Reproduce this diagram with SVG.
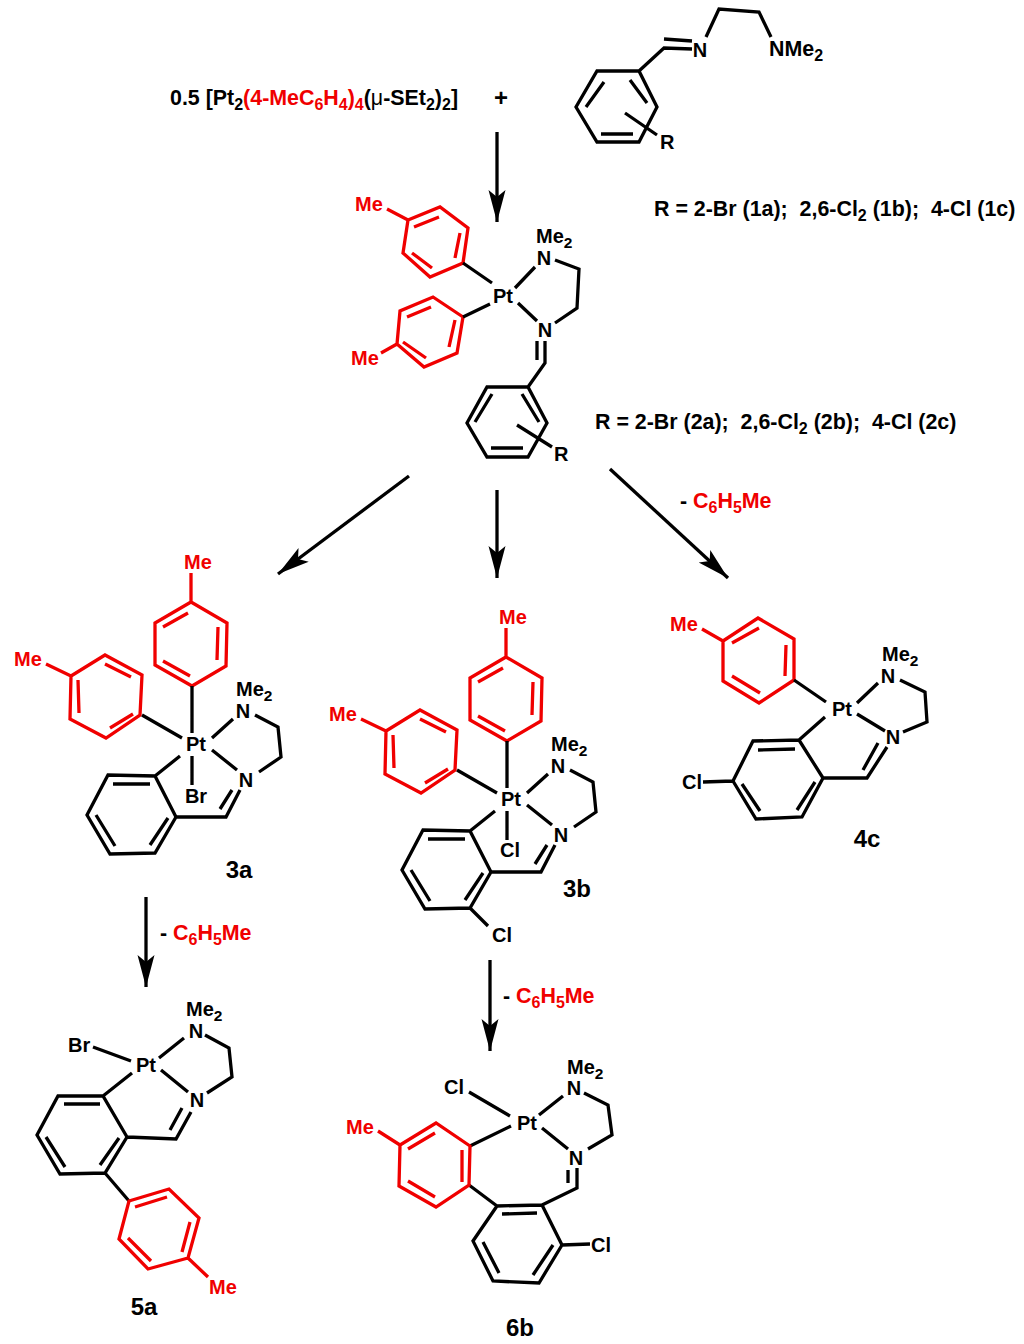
<svg xmlns="http://www.w3.org/2000/svg" width="1024" height="1344" viewBox="0 0 1024 1344">
<style>
text{font-family:"Liberation Sans",Arial,sans-serif;font-weight:700;font-size:20px;fill:#000;white-space:pre}
.m{text-anchor:middle}
.red,.red tspan{fill:#f00000}
.lbl{font-size:24px}
text.big{font-size:21.4px}
text.big .sub{font-size:16px}
.sub{font-size:15.5px}
.k,.r{fill:none;stroke-width:3.3px;stroke-linejoin:miter;stroke-linecap:butt}
.k{stroke:#000}.r{stroke:#f00000}
.arrow{fill:none;stroke:#000;stroke-width:3.3px;marker-end:url(#head)}
</style>
<defs>
<marker id="head" markerUnits="userSpaceOnUse" markerWidth="34" markerHeight="20" refX="32" refY="10" orient="auto">
<path d="M0 1.5 L32 10 L0 18.5 L7 10Z" fill="#000"/>
</marker>
</defs>
<rect width="1024" height="1344" fill="#fff"/>

<g id="connectors">
<line class="arrow" x1="497" y1="132" x2="497" y2="222"/>
<line class="arrow" x1="409" y1="476" x2="278" y2="574"/>
<line class="arrow" x1="497" y1="490" x2="497" y2="578"/>
<line class="arrow" x1="610" y1="469" x2="728" y2="578"/>
<line class="arrow" x1="146" y1="897" x2="146" y2="987"/>
<line class="arrow" x1="490" y1="960" x2="490" y2="1051"/>
</g>

<g id="reagent-pt">
<text class="big" x="170" y="105">0.5 [Pt<tspan class="sub" dy="5">2</tspan><tspan class="red" dy="-5">(4-MeC</tspan><tspan class="red sub" dy="5">6</tspan><tspan class="red" dy="-5">H</tspan><tspan class="red sub" dy="5">4</tspan><tspan class="red" dy="-5">)</tspan><tspan class="red sub" dy="5">4</tspan><tspan dy="-5">(</tspan><tspan style="font-weight:400">μ</tspan>-SEt<tspan class="sub" dy="5">2</tspan><tspan dy="-5">)</tspan><tspan class="sub" dy="5">2</tspan><tspan dy="-5">]</tspan></text>
<text class="m" x="501" y="106" style="font-size:24px">+</text>
</g>

<g id="ligand-1">
<path class="k" d="M597 71L639 71L657 107L639 142L597 142L576 107Z M630 80L647 103 M604 82L586 107 M601 134L633 134 M639 71L664 48L692 49 M664 39L692 41 M706 37L719 9L759 12L771 37 M625 113L657 135"/>
<text class="m" x="700" y="57">N</text>
<text x="769" y="56" class="big">NMe<tspan class="sub" dy="5">2</tspan></text>
<text x="660" y="149">R</text>
</g>
<text id="label-r1" class="big" x="654" y="216">R = 2-Br (1a);  2,6-Cl<tspan class="sub" dy="5">2</tspan><tspan dy="-5"> (1b);  4-Cl (1c)</tspan></text>

<g id="complex-2">
<path class="r" d="M408 220L440 207L468 228L463 263L430 277L403 253Z M414 227L439 217 M455 258L460 233 M412 253L432 268 M387 209L408 220"/>
<path class="r" d="M463 317L433 297L400 311L397 344L424 367L457 353Z M407 317L431 307 M455 320L449 347 M403 342L426 358 M381 353L397 344"/>
<path class="k" d="M463 263L492 283 M463 317L490 304 M515 288L535 267 M555 260L579 269L577 308L555 323 M518 303L537 321 M537 341L537 360 M545 341L545 363L528 387 M487 387L528 387L547 423L528 457L487 457L467 423Z M522 394L539 422 M492 394L475 422 M491 448L523 448 M517 425L552 447"/>
<text class="red" x="355" y="211">Me</text>
<text class="red" x="351" y="365">Me</text>
<text class="m" x="503" y="303">Pt</text>
<text class="m" x="544" y="265">N</text>
<text x="536" y="243">Me<tspan class="sub" dy="5">2</tspan></text>
<text class="m" x="545" y="337">N</text>
<text x="554" y="461">R</text>
</g>
<text id="label-r2" class="big" x="595" y="429">R = 2-Br (2a);  2,6-Cl<tspan class="sub" dy="5">2</tspan><tspan dy="-5"> (2b);  4-Cl (2c)</tspan></text>
<text id="loss-4c" class="big" x="680" y="508">- <tspan class="red">C</tspan><tspan class="red sub" dy="5">6</tspan><tspan class="red" dy="-5">H</tspan><tspan class="red sub" dy="5">5</tspan><tspan class="red" dy="-5">Me</tspan></text>

<g id="complex-3a">
<path class="r" d="M191 573L191 602 M191 602L227 623L226 666L192 686L155 665L155 623Z M163 627L188 613 M218 627L217 660 M163 661L190 676"/>
<path class="r" d="M46 664L71 676 M71 676L105 655L142 675L140 715L106 738L70 719Z M105 664L131 677 M110 728L133 714 M78 680L79 713"/>
<path class="k" d="M192 686L192 733 M142 715L182 738 M212 738L233 719 M255 715L278 727L281 757L259 772 M212 750L237 770 M240 790L226 817L176 817 M232 790L220 809 M176 817L155 776L108 775L87 815L110 854L155 853Z M113 784L150 784 M96 815L115 846 M150 845L168 818 M155 776L180 756 M192 756L192 785"/>
<text class="red" x="184" y="569">Me</text>
<text class="red" x="14" y="666">Me</text>
<text class="m" x="196" y="751">Pt</text>
<text class="m" x="243" y="718">N</text>
<text x="236" y="696">Me<tspan class="sub" dy="5">2</tspan></text>
<text class="m" x="246" y="787">N</text>
<text class="m" x="196" y="803">Br</text>
<text class="lbl m" x="239" y="878">3a</text>
</g>

<g id="complex-3b" transform="translate(315,55)">
<path class="r" d="M191 573L191 602 M191 602L227 623L226 666L192 686L155 665L155 623Z M163 627L188 613 M218 627L217 660 M163 661L190 676"/>
<path class="r" d="M46 664L71 676 M71 676L105 655L142 675L140 715L106 738L70 719Z M105 664L131 677 M110 728L133 714 M78 680L79 713"/>
<path class="k" d="M192 686L192 733 M142 715L182 738 M212 738L233 719 M255 715L278 727L281 757L259 772 M212 750L237 770 M240 790L226 817L176 817 M232 790L220 809 M176 817L155 776L108 775L87 815L110 854L155 853Z M113 784L150 784 M96 815L115 846 M150 845L168 818 M155 776L180 756 M192 756L192 785 M155 853L173 871"/>
<text class="red" x="184" y="569">Me</text>
<text class="red" x="14" y="666">Me</text>
<text class="m" x="196" y="751">Pt</text>
<text class="m" x="243" y="718">N</text>
<text x="236" y="696">Me<tspan class="sub" dy="5">2</tspan></text>
<text class="m" x="246" y="787">N</text>
<text class="m" x="195" y="802">Cl</text>
<text class="m" x="187" y="887">Cl</text>
<text class="lbl m" x="262" y="842">3b</text>
</g>

<g id="complex-4c">
<path class="r" d="M702 629L723 641 M723 641L758 618L794 639L794 680L759 703L723 681Z M732 643L759 628 M786 645L785 676 M732 676L760 693"/>
<path class="k" d="M794 680L826 702 M857 703L878 683 M900 680L925 692L927 722L903 732 M857 714L885 731 M887 747L867 778L823 778 M878 743L863 770 M823 778L799 740L753 741L733 781L756 819L802 817Z M758 750L795 749 M742 784L760 811 M797 810L815 782 M799 740L825 717 M703 782L733 781"/>
<text class="red" x="670" y="631">Me</text>
<text class="m" x="842" y="716">Pt</text>
<text class="m" x="888" y="683">N</text>
<text x="882" y="661">Me<tspan class="sub" dy="5">2</tspan></text>
<text class="m" x="893" y="744">N</text>
<text x="682" y="789">Cl</text>
<text class="lbl m" x="867" y="847">4c</text>
</g>

<text id="loss-5a" class="big" x="160" y="940">- <tspan class="red">C</tspan><tspan class="red sub" dy="5">6</tspan><tspan class="red" dy="-5">H</tspan><tspan class="red sub" dy="5">5</tspan><tspan class="red" dy="-5">Me</tspan></text>
<text id="loss-6b" class="big" x="503" y="1003">- <tspan class="red">C</tspan><tspan class="red sub" dy="5">6</tspan><tspan class="red" dy="-5">H</tspan><tspan class="red sub" dy="5">5</tspan><tspan class="red" dy="-5">Me</tspan></text>

<g id="complex-5a">
<path class="k" d="M93 1047L131 1061 M159 1058L184 1038 M205 1035L229 1048L232 1077L207 1093 M161 1070L188 1092 M191 1112L176 1139L127 1137 M182 1108L170 1130 M127 1137L103 1096L58 1096L37 1135L60 1174L105 1173Z M64 1104L100 1104 M46 1137L65 1167 M100 1165L119 1138 M103 1096L132 1073 M105 1173L129 1201"/>
<path class="r" d="M129 1201L169 1189L199 1218L188 1258L148 1269L119 1239Z M135 1207L167 1197 M190 1222L182 1252 M128 1238L151 1261 M188 1258L208 1277"/>
<text x="68" y="1052">Br</text>
<text class="m" x="146" y="1072">Pt</text>
<text class="m" x="196" y="1038">N</text>
<text x="186" y="1016">Me<tspan class="sub" dy="5">2</tspan></text>
<text class="m" x="197" y="1107">N</text>
<text class="red" x="209" y="1294">Me</text>
<text class="lbl m" x="144" y="1315">5a</text>
</g>

<g id="complex-6b">
<path class="k" d="M469 1092L510 1116 M539 1115L563 1096 M584 1093L608 1105L612 1135L588 1149 M542 1128L568 1149 M577 1168L577 1188L542 1205 M568 1170L568 1183 M542 1205L497 1206L473 1241L493 1281L539 1283L562 1245Z M502 1214L537 1213 M483 1242L499 1273 M533 1275L553 1245 M562 1245L590 1244 M497 1206L469 1185 M470 1146L511 1126"/>
<path class="r" d="M469 1185L470 1146L436 1123L400 1145L399 1186L436 1207Z M462 1150L462 1182 M408 1149L435 1133 M408 1181L435 1197 M378 1131L400 1145"/>
<text x="444" y="1094">Cl</text>
<text class="m" x="527" y="1130">Pt</text>
<text class="m" x="574" y="1095">N</text>
<text x="567" y="1074">Me<tspan class="sub" dy="5">2</tspan></text>
<text class="m" x="576" y="1165">N</text>
<text class="red" x="346" y="1134">Me</text>
<text x="591" y="1252">Cl</text>
<text class="lbl m" x="520" y="1336">6b</text>
</g>
</svg>
